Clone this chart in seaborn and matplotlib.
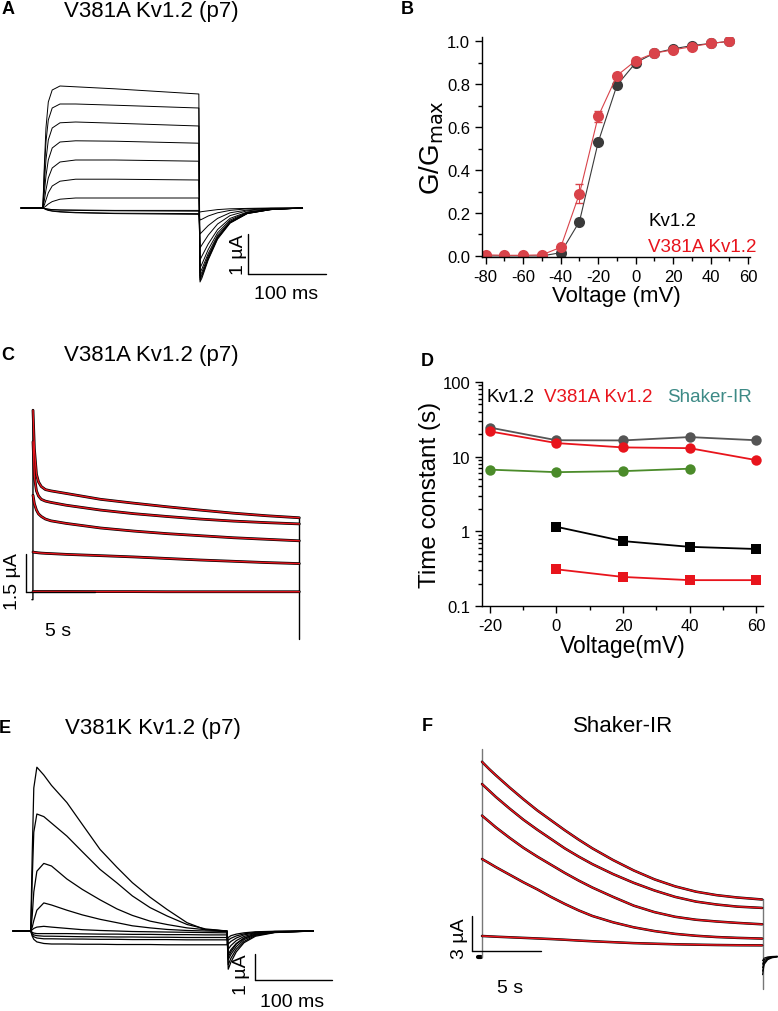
import matplotlib
matplotlib.use("Agg")
import matplotlib.pyplot as plt
import seaborn as sns
from matplotlib.ticker import MultipleLocator, FixedLocator, LogLocator, NullFormatter

# ---------------- data ----------------
# B: conductance-voltage
B_volt = [-80, -70, -60, -50, -40, -30, -20, -10, 0, 10, 20, 30, 40, 50]
B_wt = [0.0, 0.0, 0.0, 0.0, 0.015, 0.16, 0.53, 0.795, 0.90, 0.945, 0.965, 0.98, 0.99, 1.0]
B_wt_err = [0.0, 0.0, 0.0, 0.0, 0.005, 0.01, 0.01, 0.01, 0.01, 0.005, 0.005, 0.005, 0.0, 0.0]
B_mut = [0.005, 0.003, 0.003, 0.005, 0.04, 0.29, 0.65, 0.84, 0.91, 0.945, 0.96, 0.975, 0.99, 1.0]
B_mut_err = [0.0, 0.0, 0.0, 0.0, 0.01, 0.045, 0.025, 0.01, 0.01, 0.005, 0.005, 0.005, 0.0, 0.0]

# D: time constants (s)
D_volt_slow = [-20, 0, 20, 40, 60]
D_wt_slow = [24.5, 16.6, 16.5, 18.3, 16.6]
D_mut_slow = [21.8, 15.2, 13.3, 13.0, 9.0]
D_volt_sh = [-20, 0, 20, 40]
D_shaker = [6.7, 6.2, 6.4, 6.9]
D_volt_fast = [0, 20, 40, 60]
D_wt_fast = [1.15, 0.74, 0.62, 0.58]
D_mut_fast = [0.31, 0.245, 0.222, 0.222]

# A: V381A Kv1.2 family of currents (ms, uA)
A_time = [0, 28, 30, 32, 35, 40, 50, 70, 120, 228, 229.5, 232, 240, 252, 268, 290, 320, 361]
A_traces = [
    [0, 0, 1.1, 2.0, 2.65, 2.95, 3.05, 3.03, 2.98, 2.85, -1.85, -1.75, -1.3, -0.78, -0.38, -0.14, -0.04, 0],
    [0, 0, 0.95, 1.65, 2.2, 2.5, 2.6, 2.6, 2.57, 2.5, -1.8, -1.7, -1.27, -0.76, -0.37, -0.14, -0.04, 0],
    [0, 0, 0.65, 1.2, 1.7, 2.0, 2.13, 2.15, 2.12, 2.05, -1.75, -1.66, -1.24, -0.74, -0.36, -0.13, -0.04, 0],
    [0, 0, 0.4, 0.8, 1.2, 1.5, 1.65, 1.68, 1.67, 1.62, -1.7, -1.6, -1.2, -0.72, -0.35, -0.13, -0.04, 0],
    [0, 0, 0.2, 0.45, 0.75, 1.0, 1.15, 1.2, 1.2, 1.17, -1.62, -1.52, -1.14, -0.68, -0.33, -0.12, -0.03, 0],
    [0, 0, 0.08, 0.2, 0.38, 0.55, 0.67, 0.72, 0.72, 0.7, -1.5, -1.4, -1.04, -0.62, -0.3, -0.11, -0.03, 0],
    [0, 0, 0.02, 0.05, 0.1, 0.16, 0.22, 0.25, 0.25, 0.25, -1.3, -1.2, -0.9, -0.54, -0.26, -0.1, -0.03, 0],
    [0, 0, -0.01, -0.02, -0.03, -0.04, -0.05, -0.06, -0.07, -0.08, -1.0, -0.92, -0.68, -0.4, -0.19, -0.07, -0.02, 0],
    [0, 0, -0.01, -0.03, -0.05, -0.07, -0.09, -0.11, -0.13, -0.14, -0.65, -0.6, -0.44, -0.26, -0.12, -0.05, -0.01, 0],
    [0, 0, -0.02, -0.04, -0.06, -0.08, -0.1, -0.12, -0.14, -0.16, -0.3, -0.28, -0.2, -0.12, -0.06, -0.02, -0.01, 0],
    [0, 0, -0.01, -0.02, -0.03, -0.04, -0.05, -0.05, -0.06, -0.06, -0.1, -0.09, -0.07, -0.04, -0.02, -0.01, 0, 0],
]

# C: V381A Kv1.2 long pulses (s, uA), black record + red fit
C_time = [0, 0.1, 0.25, 0.4, 0.6, 0.9, 1.3, 2.4, 4.9, 7.3, 9.7, 12.1, 14.5, 16.9, 19.3]
C_traces = [
    [7.1, 5.6, 4.6, 4.3, 4.12, 4.0, 3.95, 3.85, 3.62, 3.47, 3.33, 3.2, 3.08, 2.98, 2.9],
    [5.87, 4.5, 3.95, 3.75, 3.62, 3.55, 3.5, 3.39, 3.2, 3.06, 2.95, 2.85, 2.77, 2.71, 2.66],
    [3.78, 3.45, 3.2, 3.05, 2.95, 2.85, 2.78, 2.68, 2.5, 2.38, 2.28, 2.2, 2.12, 2.06, 2.0],
    [1.56, 1.55, 1.54, 1.53, 1.52, 1.51, 1.5, 1.47, 1.42, 1.37, 1.31, 1.25, 1.2, 1.15, 1.11],
    [0.02, 0.02, 0.02, 0.02, 0.02, 0.02, 0.02, 0.02, 0.015, 0.015, 0.01, 0.01, 0.01, 0.01, 0.01],
]
C_hold = -0.3
C_tail = -1.84

# E: V381K Kv1.2 family of currents (ms, uA)
E_time = [0, 23, 25, 27, 31, 40, 50, 70, 90, 113, 135, 155, 178, 200, 226, 250, 278,
          279.5, 283, 290, 300, 315, 340, 390]
E_traces = [
    [0, 0, 3.0, 5.5, 6.3, 6.0, 5.6, 4.94, 4.1, 3.14, 2.45, 1.86, 1.3, 0.83, 0.32, 0.05, 0,
     -1.0, -0.8, -0.5, -0.28, -0.12, -0.04, 0],
    [0, 0, 2.0, 3.8, 4.5, 4.4, 4.15, 3.65, 3.05, 2.37, 1.85, 1.35, 0.9, 0.58, 0.25, 0.08, 0.0,
     -1.3, -1.05, -0.7, -0.4, -0.17, -0.05, 0],
    [0, 0, 0.6, 1.5, 2.3, 2.6, 2.5, 2.0, 1.6, 1.2, 0.85, 0.6, 0.38, 0.25, 0.12, 0.05, 0.0,
     -1.47, -1.2, -0.8, -0.45, -0.2, -0.06, 0],
    [0, 0, 0.15, 0.4, 0.8, 1.08, 1.0, 0.8, 0.62, 0.45, 0.32, 0.2, 0.12, 0.06, 0.02, 0, -0.02,
     -1.1, -0.9, -0.6, -0.33, -0.15, -0.05, 0],
    [0, 0, 0.05, 0.1, 0.15, 0.18, 0.15, 0.1, 0.05, 0.02, 0, -0.02, -0.03, -0.04, -0.05, -0.06, -0.07,
     -0.9, -0.72, -0.48, -0.27, -0.12, -0.04, 0],
    [0, 0, -0.05, -0.08, -0.1, -0.1, -0.1, -0.1, -0.11, -0.12, -0.12, -0.13, -0.13, -0.14, -0.14, -0.15, -0.15,
     -0.7, -0.56, -0.37, -0.21, -0.09, -0.03, 0],
    [0, 0, -0.1, -0.15, -0.18, -0.2, -0.2, -0.21, -0.22, -0.22, -0.23, -0.23, -0.24, -0.24, -0.25, -0.25, -0.25,
     -0.5, -0.4, -0.27, -0.15, -0.07, -0.02, 0],
    [0, 0, -0.15, -0.22, -0.27, -0.3, -0.3, -0.31, -0.31, -0.32, -0.32, -0.33, -0.33, -0.33, -0.34, -0.34, -0.34,
     -0.35, -0.28, -0.19, -0.11, -0.05, -0.02, 0],
    [0, 0, -0.2, -0.32, -0.42, -0.48, -0.5, -0.5, -0.51, -0.51, -0.52, -0.52, -0.52, -0.53, -0.53, -0.53, -0.53,
     -0.25, -0.18, -0.12, -0.07, -0.03, -0.01, 0],
]

# F: Shaker-IR long pulses (s, uA), black record + red fit
F_time = [0, 0.5, 1.0, 2.0, 3.0, 4.0, 5.0, 6.0, 7.0, 8.0, 9.5, 11.0, 12.5, 14.0, 15.5, 17.0, 18.5, 20.3]
F_traces = [
    [16.6, 16.0, 15.45, 14.4, 13.4, 12.45, 11.6, 10.75, 9.95, 9.2, 8.2, 7.31, 6.55, 5.95, 5.5, 5.2, 5.0, 4.83],
    [14.7, 14.15, 13.6, 12.6, 11.65, 10.8, 10.0, 9.2, 8.5, 7.85, 7.0, 6.25, 5.6, 5.05, 4.65, 4.4, 4.22, 4.11],
    [12.0, 11.5, 11.0, 10.1, 9.25, 8.5, 7.8, 7.1, 6.45, 5.85, 5.05, 4.3, 3.75, 3.35, 3.1, 2.95, 2.83, 2.71],
    [8.29, 7.95, 7.6, 6.95, 6.3, 5.7, 5.05, 4.45, 3.9, 3.42, 2.88, 2.45, 2.13, 1.89, 1.73, 1.62, 1.55, 1.49],
    [1.71, 1.68, 1.65, 1.6, 1.55, 1.5, 1.45, 1.39, 1.32, 1.26, 1.18, 1.1, 1.05, 1.0, 0.97, 0.94, 0.92, 0.91],
]
F_hold = -0.1
F_spike = 17.7
F_tail = -2.8
F_tail_time = [20.33, 20.45, 20.7, 21.0, 21.4]
F_tail_peaks = [-1.6, -1.3, -1.0, -0.7, -0.4]

# ---------------- style ----------------
sns.set_style("ticks")
plt.rcParams["font.family"] = ["Liberation Sans", "DejaVu Sans"]
plt.rcParams["axes.unicode_minus"] = False
plt.rcParams["axes.linewidth"] = 1.0
plt.rcParams["axes.edgecolor"] = "black"
plt.rcParams["axes.labelcolor"] = "black"
plt.rcParams["text.color"] = "black"
plt.rcParams["xtick.color"] = "black"
plt.rcParams["ytick.color"] = "black"

W, H = 778, 1012
fig = plt.figure(figsize=(W / 100, H / 100), dpi=100)

RED_B = "#d9434a"
RED = "#e8141c"
GRAY = "#555555"
GREEN = "#4b8b2a"
TEAL = "#3d8a86"


def px_axes(left, top, right, bottom):
    return fig.add_axes([left / W, 1 - bottom / H, (right - left) / W, (bottom - top) / H])


def trace_axes(box, origin, scale):
    # box in pixels; origin = pixel of (0, 0); scale = pixels per data unit
    left, top, right, bottom = box
    ax = px_axes(left, top, right, bottom)
    ax.set_xlim((left - origin[0]) / scale[0], (right - origin[0]) / scale[0])
    ax.set_ylim((origin[1] - bottom) / scale[1], (origin[1] - top) / scale[1])
    ax.axis("off")
    return ax


def trace(ax, t, v, color="black", lw=1.0):
    sns.lineplot(x=t, y=v, ax=ax, color=color, linewidth=lw, estimator=None,
                 sort=False, legend=False)


def scale_bar(ax, x0, y0, dx, dy, ylab, xlab, ylab_pos, xlab_pos):
    ax.plot([x0, x0], [y0, y0 + dy], color="black", lw=1.0)
    ax.plot([x0, x0 + dx], [y0, y0], color="black", lw=1.0)
    ax.text(*ylab_pos, ylab, rotation=90, ha="center", va="center", fontsize=14)
    ax.text(*xlab_pos, xlab, ha="center", va="center", fontsize=14)


def panel_text(x, y, letter, title=None, title_x=None, title_y=None):
    fig.text(x / W, 1 - y / H, letter, fontsize=13, fontweight="bold", ha="center", va="center")
    if title:
        ty = y if title_y is None else title_y
        fig.text(title_x / W, 1 - ty / H, title, fontsize=16, ha="center", va="center")


# ---------------- A ----------------
axA = trace_axes((0, 40, 400, 320), (21, 209), (0.78, 40))
for v in A_traces:
    trace(axA, A_time, v, lw=0.7)
scale_bar(axA, 291, -1.65, 100, 1.0, "1 µA", "100 ms", (279, -1.15), (340, -2.15))
panel_text(8, 9, "A", "V381A Kv1.2 (p7)", 151, 12)

# ---------------- B ----------------
axB = px_axes(482, 38, 750, 258)
axB.errorbar(B_volt, B_mut, yerr=B_mut_err, fmt="none", ecolor=RED_B, elinewidth=0.8, capsize=3)
axB.errorbar(B_volt, B_wt, yerr=B_wt_err, fmt="none", ecolor="#333333", elinewidth=0.8, capsize=3)
sns.lineplot(x=B_volt, y=B_wt, ax=axB, color="#3a3a3a", linewidth=0.8, marker="o",
             markersize=8, markeredgewidth=0, legend=False)
sns.lineplot(x=B_volt, y=B_mut, ax=axB, color=RED_B, linewidth=0.8, marker="o",
             markersize=8, markeredgewidth=0, legend=False)
axB.set_xlim(-82, 61)
axB.set_ylim(-0.005, 1.02)
axB.xaxis.set_major_locator(FixedLocator([-80, -60, -40, -20, 0, 20, 40, 60]))
axB.xaxis.set_minor_locator(MultipleLocator(10))
axB.yaxis.set_major_locator(MultipleLocator(0.2))
axB.yaxis.set_minor_locator(MultipleLocator(0.1))
axB.yaxis.set_major_formatter(plt.FuncFormatter(lambda v, p: f"{v:.1f}"))
axB.tick_params(which="major", length=5, width=1, labelsize=12, direction="out")
axB.tick_params(which="minor", length=3, width=1, direction="out")
sns.despine(ax=axB)
axB.set_xlabel("Voltage (mV)", fontsize=16, labelpad=1)
axB.set_ylabel("G/G$_{\\mathrm{max}}$", fontsize=20, labelpad=1)
axB.text(648 / W, 1 - 222 / H, "Kv1.2", transform=fig.transFigure, fontsize=13.5,
         color="black", va="center")
axB.text(648 / W, 1 - 248 / H, "V381A Kv1.2", transform=fig.transFigure, fontsize=13.5,
         color=RED, va="center")
panel_text(407, 9, "B")

# ---------------- C ----------------
axC = trace_axes((0, 380, 400, 660), (33, 593), (13.8, 25.6))
trace(axC, [-0.08, -0.005, -0.005, 0], [C_hold, C_hold, 0, C_traces[0][0]], "black", 1.0)
trace(axC, [C_time[-1] + 0.01, C_time[-1] + 0.01], [C_traces[0][-1], C_tail], "black", 1.0)
for v in C_traces:
    trace(axC, C_time, v, "black", 2.0)
for v in C_traces:
    trace(axC, C_time, v, RED, 1.0)
scale_bar(axC, -0.51, 0.0, 5.0, 1.5, "1.5 µA", "5 s", (-1.45, 0.45), (1.81, -1.52))
panel_text(8, 356, "C", "V381A Kv1.2 (p7)", 151)

# ---------------- D ----------------
axD = px_axes(482, 383, 763, 607)
series_D = [
    (D_volt_slow, D_wt_slow, GRAY, "o", 7.5),
    (D_volt_slow, D_mut_slow, RED, "o", 7.5),
    (D_volt_sh, D_shaker, GREEN, "o", 7.5),
    (D_volt_fast, D_wt_fast, "black", "s", 6.5),
    (D_volt_fast, D_mut_fast, RED, "s", 6.5),
]
for x, y, c, m, ms in series_D:
    sns.lineplot(x=x, y=y, ax=axD, color=c, linewidth=1.3, marker=m, markersize=ms,
                 markeredgewidth=0, legend=False)
axD.set_yscale("log")
axD.set_ylim(0.1, 100)
axD.set_xlim(-22.4, 62.1)
axD.xaxis.set_major_locator(FixedLocator([-20, 0, 20, 40, 60]))
axD.xaxis.set_minor_locator(MultipleLocator(10))
axD.yaxis.set_major_locator(FixedLocator([0.1, 1, 10, 100]))
axD.yaxis.set_major_formatter(plt.FuncFormatter(lambda v, p: f"{v:g}"))
axD.yaxis.set_minor_locator(LogLocator(base=10, subs=range(2, 10)))
axD.yaxis.set_minor_formatter(NullFormatter())
axD.tick_params(which="major", length=5, width=1, labelsize=12, direction="out")
axD.tick_params(which="minor", length=3, width=1, direction="out")
sns.despine(ax=axD)
axD.set_xlabel("Voltage(mV)", fontsize=16.5, labelpad=1)
axD.set_ylabel("Time constant (s)", fontsize=17.5, labelpad=1)
for x, label, c in [(487, "Kv1.2", "black"), (544, "V381A Kv1.2", RED), (667, "Shaker-IR", TEAL)]:
    fig.text(x / W, 1 - 398 / H, label, fontsize=13.5, color=c, va="center")
panel_text(427, 362, "D")

# ---------------- E ----------------
axE = trace_axes((0, 740, 400, 1012), (13, 932), (0.77, 26))
for v in E_traces:
    trace(axE, E_time, v, lw=0.9)
scale_bar(axE, 314, -1.9, 100, 1.0, "1 µA", "100 ms", (297, -1.65), (362, -2.73))
panel_text(5, 729, "E", "V381K Kv1.2 (p7)", 153)

# ---------------- F ----------------
axF = trace_axes((400, 740, 778, 1012), (482, 957), (13.8, 11.7))
trace(axF, [-0.3, -0.05], [F_hold, F_hold], "black", 3.0)
trace(axF, [0, 0], [F_hold, F_spike], "#777777", 1.0)
trace(axF, [F_time[-1] + 0.03, F_time[-1] + 0.03], [F_traces[0][-1], F_tail], "#777777", 1.0)
for p in F_tail_peaks:
    trace(axF, F_tail_time, [p, p * 0.45, p * 0.2, p * 0.1, p * 0.05], "black", 0.8)
for v in F_traces:
    trace(axF, F_time, v, "black", 1.8)
for v in F_traces:
    trace(axF, F_time, v, RED, 1.1)
scale_bar(axF, -0.72, 0.43, 5.0, 3.0, "3 µA", "5 s", (-1.6, 1.6), (2.0, -2.65))
panel_text(427, 727, "F", "Shaker-IR", 623)

fig.savefig("out.png", dpi=100)
